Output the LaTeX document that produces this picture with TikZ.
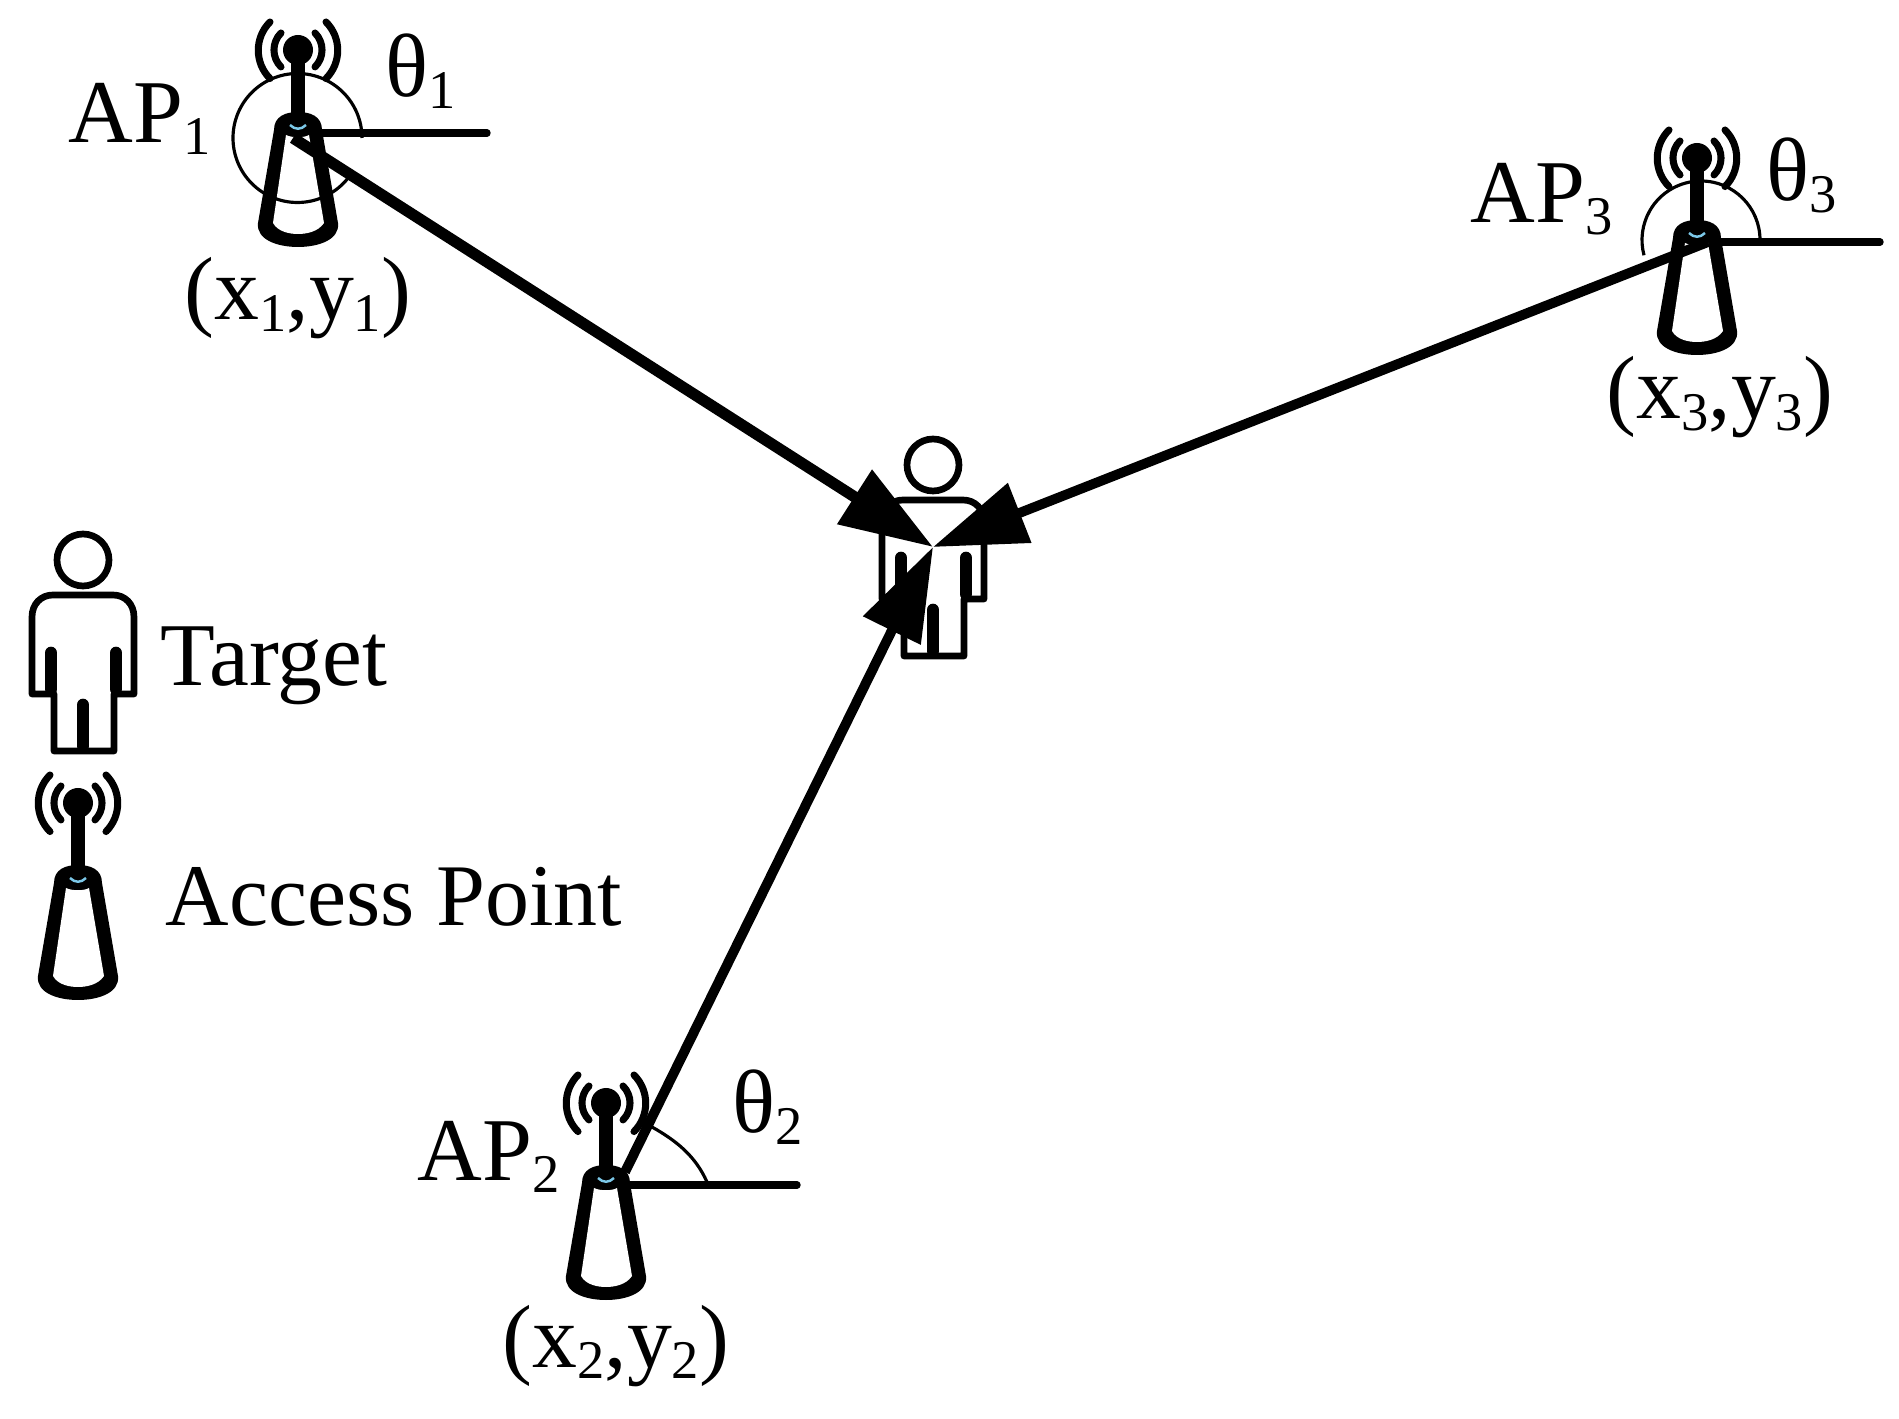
\documentclass[tikz,border=0pt]{standalone}
\usepackage{fontspec}
\setmainfont{Liberation Serif}
\usepackage{xcolor}
\usetikzlibrary{arrows.meta,positioning,calc}
\definecolor{markblue}{HTML}{7CC8E8}
\newcommand{\subs}[1]{\raisebox{-3.4pt}{\fontsize{15.5}{16}\selectfont #1}}

\tikzset{
  px/.style={x=0.01cm,y=-0.01cm},
  apicon/.pic={
    % wireless access point, origin at the ball on the antenna
    \fill (0,0) circle (15);
    \fill (-7,0) rectangle (7,70);
    \draw[line width=2pt,line cap=round] (-17,-17) arc[start angle=225,end angle=135,radius=24];
    \draw[line width=2pt,line cap=round] (17,-17) arc[start angle=-45,end angle=45,radius=24];
    \draw[line width=2pt,line cap=round] (-28,-28) arc[start angle=225,end angle=135,radius=40];
    \draw[line width=2pt,line cap=round] (28,-28) arc[start angle=-45,end angle=45,radius=40];
    \fill (-24,80) .. controls (-24,66) and (-12,62) .. (0,62) .. controls (12,62) and (24,66) .. (24,80)
      -- (40,173) .. controls (42,190) and (20,197) .. (0,197) .. controls (-20,197) and (-42,190) .. (-40,173) -- cycle;
    \fill[white] (-12,85) .. controls (-6,88) and (6,88) .. (11,85) -- (26,173)
      .. controls (20,182) and (8,184) .. (0,184) .. controls (-8,184) and (-20,182) .. (-25,173) -- cycle;
    \draw[markblue,line width=0.7pt] (-8,75) .. controls (-3,80) and (3,80) .. (8,75);
  },
  person/.pic={
    % stick figure, origin at the centre of the head
    \draw[line width=1.9pt] (0,0) circle (26);
    \draw[line width=1.9pt,line join=round] (-29,191) -- (-29,134) -- (-51,134) -- (-51,57)
      .. controls (-51,44) and (-42,35) .. (-30,35) -- (30,35)
      .. controls (42,35) and (51,44) .. (51,57) -- (51,134) -- (31,134) -- (31,191) -- cycle;
    \draw[line width=3.6pt,line cap=round] (-32,93) -- (-32,129);
    \draw[line width=3.6pt,line cap=round] (33,93) -- (33,129);
    \draw[line width=3.6pt,line cap=round] (0,145) -- (0,186);
  },
}

\begin{document}
\begin{tikzpicture}[
  px,
  every node/.style={font=\fontsize{25.5}{26}\selectfont,inner sep=0pt},
  lbl/.style={anchor=base west},
  rayline/.style={line width=2.8pt,-{Triangle[length=26.5pt,width=17.6pt]}},
  refline/.style={line width=2.1pt,line cap=round},
  anglearc/.style={line width=0.9pt},
]
\useasboundingbox (0,0) rectangle (1899,1419);

% positions of the figures
\coordinate (target) at (933,547);
\coordinate (ap1) at (293,138);
\coordinate (ap2) at (625,1172);
\coordinate (ap3) at (1708,242);
\coordinate (start1) at (322,133);
\coordinate (start2) at (630,1185);
\coordinate (start3) at (1720,242);
\coordinate (end1) at (487,133);
\coordinate (end2) at (797,1185);
\coordinate (end3) at (1880,242);

\pic at (298,50) {apicon};
\pic at (606,1103) {apicon};
\pic at (1697,158) {apicon};
\pic at (78,803) {apicon};
\pic at (933,465) {person};
\pic at (83,560) {person};

% angles
\draw[anglearc] (362,138) arc[start angle=0,end angle=-322,radius=64.5];
\draw[anglearc] (1760,240) arc[start angle=0,end angle=-195,radius=59];
\draw[anglearc] (707,1182) .. controls (695,1155) and (675,1140) .. (652,1127);

% reference lines
\draw[refline] (start1) -- (end1);
\draw[refline] (start2) -- (end2);
\draw[refline] (start3) -- (end3);

% rays to the target
\draw[rayline,line width=3.2pt] (ap1) -- (target);
\draw[rayline] (ap2) -- (target);
\draw[rayline] (ap3) -- (target);

% labels
\node[lbl] (lap1) at (68,143) {AP\subs{1}};
\node[lbl] (lap2) at (417,1181) {AP\subs{2}};
\node[lbl] (lap3) at (1470,223) {AP\subs{3}};
\node[lbl] (lt1) at (385,97) {θ\subs{1}};
\node[lbl] (lt2) at (732,1133) {θ\subs{2}};
\node[lbl] (lt3) at (1766,201) {θ\subs{3}};
\node[lbl] (lxy1) at (184,320) {(x\subs{1},y\subs{1})};
\node[lbl] (lxy2) at (502,1367) {(x\subs{2},y\subs{2})};
\node[lbl] (lxy3) at (1606,419) {(x\subs{3},y\subs{3})};
\node[lbl] (ltarget) at (160,686) {Target};
\node[lbl,font=\fontsize{25}{26}\selectfont] (lap) at (165,926) {Access Point};
\end{tikzpicture}
\end{document}
